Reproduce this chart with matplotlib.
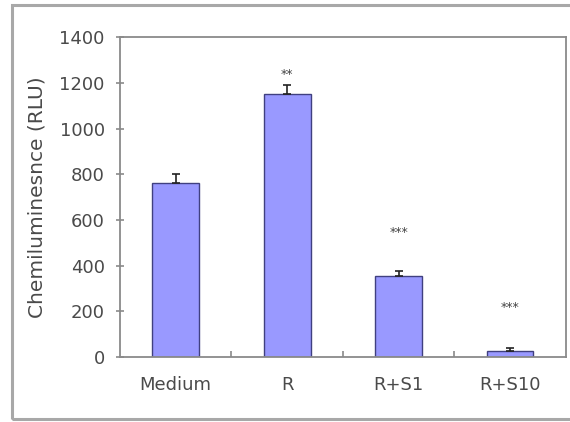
import matplotlib
matplotlib.use("Agg")
import matplotlib.pyplot as plt
from matplotlib.patches import Rectangle
import numpy as np

categories = ["Medium", "R", "R+S1", "R+S10"]
values = [763, 1150, 355, 25]
errors = [36, 40, 20, 15]
stars = ["", "**", "***", "***"]
star_y = [None, 1235, 545, 215]
yticks = [0, 200, 400, 600, 800, 1000, 1200, 1400]

plt.rcParams["font.family"] = ["DejaVu Sans"]
text_color = "#4a4a4a"
axis_color = "#8a8a8a"

fig = plt.figure(figsize=(5.70, 4.22), dpi=100)
fig.patch.set_facecolor("white")

# outer frame (left, top, bottom edges)
frame = Rectangle((0.021, 0.006), 1.2, 0.982, transform=fig.transFigure,
                  fill=False, edgecolor="#a8a8a8", linewidth=2.2)
fig.patches.append(frame)

ax = fig.add_axes([0.2105, 0.154, 0.782, 0.758])
x = np.arange(len(categories)) + 0.5
ax.bar(x, values, width=0.42, color="#9999ff", edgecolor="#404080",
       linewidth=1.0, zorder=2)
ax.errorbar(x, values, yerr=[np.zeros(len(errors)), errors], fmt="none",
            ecolor="#222222", elinewidth=1.2, capsize=3.0, capthick=1.2,
            zorder=3)

for xi, s, sy in zip(x, stars, star_y):
    if s:
        ax.text(xi, sy, s, ha="center", va="center", fontsize=9,
                color="#444444")

ax.set_xlim(0, 4)
ax.set_ylim(0, 1400)
ax.set_yticks(yticks)
ax.set_yticklabels([str(t) for t in yticks], fontsize=13, color=text_color)
ax.set_xticks(x)
ax.set_xticklabels(categories, fontsize=13, color=text_color)
ax.set_xticks([1, 2, 3], minor=True)
ax.tick_params(axis="x", which="major", length=0, pad=14)
ax.tick_params(axis="x", which="minor", direction="in", length=4,
               color=axis_color, width=1.2)
ax.tick_params(axis="y", direction="inout", length=6, color=axis_color,
               width=1.2, pad=8)
ax.set_ylabel("Chemiluminesnce (RLU)", fontsize=14.5, color=text_color,
              labelpad=9)

for sp in ax.spines.values():
    sp.set_color(axis_color)
    sp.set_linewidth(1.3)

fig.savefig("out.png", dpi=100, facecolor="white")
